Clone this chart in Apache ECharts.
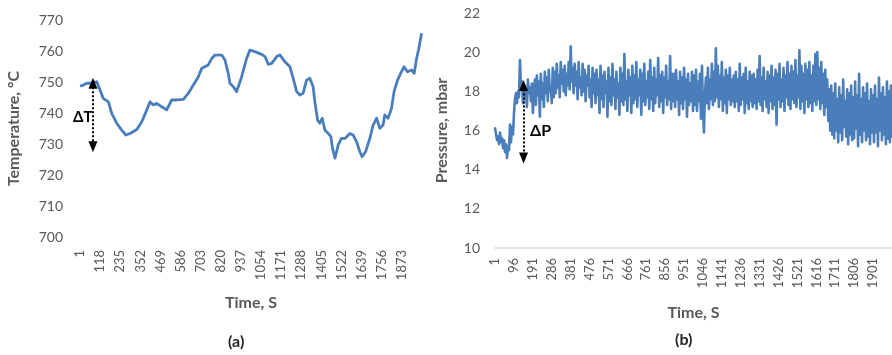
<!DOCTYPE html>
<html>
<head>
<meta charset="utf-8">
<title>Temperature and pressure over time</title>
<script src="https://cdn.jsdelivr.net/npm/echarts@6/dist/echarts.min.js"></script>
<style>
  html, body { margin: 0; padding: 0; background: #ffffff; }
  #chart { width: 892px; height: 355px; }
</style>
</head>
<body>
<div id="chart"></div>
<script>
// (a) furnace temperature, sampled irregularly (s, °C)
const tempTime = [1, 20, 40, 69, 98, 117, 136, 166, 185, 214, 243, 267, 292, 331, 360, 389, 408, 427, 447, 476,
  505, 534, 563, 602, 631, 660, 689, 709, 747, 767, 786, 825, 844, 863, 873, 892, 912, 941, 970, 989,
  1018, 1057, 1077, 1096, 1116, 1145, 1164, 1193, 1222, 1241, 1261, 1280, 1299, 1319, 1338, 1357, 1367, 1383, 1396, 1410,
  1425, 1445, 1460, 1470, 1484, 1503, 1522, 1542, 1571, 1590, 1610, 1629, 1642, 1662, 1687, 1706, 1726, 1745, 1764, 1774,
  1793, 1813, 1828, 1848, 1871, 1886, 1906, 1929, 1945, 1959, 1972, 1988];
const tempValue = [748.7, 749.0, 749.6, 749.6, 750.1, 747.4, 744.7, 743.6, 739.9, 736.7, 734.5, 732.9, 733.4, 734.7, 737.2, 741.0, 743.6, 742.6, 743.1, 742.0,
  741.0, 744.2, 744.2, 744.4, 746.4, 749.0, 751.7, 754.4, 755.5, 757.6, 758.7, 758.7, 757.1, 752.8, 749.6, 748.5, 746.9, 751.7, 757.6, 760.3,
  759.8, 758.9, 758.2, 755.7, 756.0, 758.2, 758.7, 756.5, 754.9, 751.2, 746.9, 745.8, 746.4, 750.6, 751.2, 748.5, 743.6, 737.7, 736.7, 738.3,
  734.5, 733.4, 732.4, 728.6, 725.4, 729.7, 731.8, 731.8, 733.4, 732.9, 730.7, 727.5, 725.9, 727.5, 731.8, 736.1, 738.3, 735.1, 736.1, 739.4,
  738.3, 741.5, 746.9, 750.6, 753.3, 754.9, 753.3, 753.9, 752.8, 757.6, 760.8, 765.7];
const tempTicks = [1, 118, 235, 352, 469, 586, 703, 820, 937, 1054, 1171, 1288, 1405, 1522, 1639, 1756, 1873];

// (b) chamber pressure, one reading every 5 s starting at t = 1 (mbar)
const pressureStart = 1;
const pressureStep = 5;
const pressureValue = [
  16.1, 16.0, 15.5, 15.7, 15.3, 15.9, 15.4, 15.6, 15.1, 15.5, 14.9, 15.3, 14.6, 15.2, 15.0, 16.3, 15.4, 16.2, 15.8, 16.9,
  17.6, 17.9, 17.4, 18.0, 17.7, 19.6, 18.2, 18.5, 17.4, 18.3, 17.6, 18.1, 17.2, 18.6, 17.9, 18.2, 17.5, 18.4, 16.9, 18.0,
  18.6, 17.3, 18.8, 17.8, 18.5, 16.7, 18.9, 17.6, 18.4, 17.2, 19.0, 17.9, 18.7, 17.5, 19.1, 18.0, 18.3, 17.4, 19.2, 17.7,
  19.0, 17.9, 19.4, 18.2, 18.8, 17.7, 19.5, 18.4, 19.1, 18.0, 19.3, 17.8, 18.9, 18.3, 19.5, 18.1, 20.3, 18.5, 19.2, 17.9,
  19.4, 18.3, 19.0, 17.6, 19.5, 18.2, 18.7, 17.8, 19.4, 18.0, 19.1, 17.5, 18.8, 18.3, 19.3, 17.7, 18.6, 17.2, 19.2, 17.9,
  18.9, 17.4, 19.1, 17.8, 18.6, 16.9, 19.3, 17.6, 18.8, 17.2, 19.0, 17.9, 18.5, 16.7, 19.2, 17.5, 18.7, 17.3, 19.4, 17.8,
  18.6, 17.1, 19.0, 17.7, 18.4, 16.8, 19.2, 17.5, 18.9, 17.3, 19.9, 17.6, 18.5, 17.0, 19.1, 17.8, 18.7, 16.9, 19.3, 17.4,
  18.8, 17.6, 19.5, 17.2, 18.6, 17.8, 19.1, 16.8, 18.9, 17.5, 19.4, 17.3, 18.5, 17.7, 19.0, 17.1, 19.6, 17.6, 18.7, 17.0,
  19.2, 17.4, 18.6, 17.8, 19.7, 17.2, 18.8, 17.5, 19.0, 16.9, 18.7, 17.7, 19.3, 17.3, 18.5, 17.6, 19.8, 17.1, 18.9, 17.5,
  18.9, 17.2, 19.1, 17.6, 18.5, 16.8, 19.0, 17.4, 18.7, 17.1, 19.2, 17.6, 18.6, 16.7, 18.9, 17.3, 18.4, 17.5, 19.0, 17.0,
  18.8, 17.3, 19.1, 17.0, 18.5, 17.5, 18.9, 16.6, 19.3, 17.2, 15.9, 17.8, 18.7, 17.4, 19.2, 17.1, 18.6, 17.6, 19.4, 17.3,
  19.0, 17.5, 20.2, 17.7, 19.3, 17.2, 18.8, 17.6, 19.5, 17.0, 18.7, 17.4, 19.1, 16.9, 18.8, 17.6, 19.2, 17.3, 18.6, 17.5,
  18.8, 17.2, 19.0, 17.5, 18.6, 17.0, 19.4, 17.3, 18.7, 17.6, 18.9, 16.9, 19.2, 17.4, 18.5, 17.1, 19.0, 17.5, 18.8, 17.2,
  18.9, 17.4, 18.6, 17.1, 19.1, 17.5, 19.8, 17.3, 18.7, 17.0, 19.2, 17.6, 18.5, 17.2, 19.0, 16.9, 18.8, 17.5, 19.3, 17.1,
  18.7, 17.3, 19.1, 16.3, 18.9, 17.6, 19.4, 17.2, 18.6, 17.5, 19.2, 17.0, 18.8, 17.7, 19.5, 17.3, 18.9, 17.1, 19.3, 17.6,
  19.0, 17.4, 19.6, 17.2, 18.8, 17.7, 20.1, 17.1, 19.3, 17.5, 18.9, 16.9, 19.4, 17.6, 19.1, 17.2, 19.5, 17.4, 18.8, 17.0,
  19.3, 17.5, 19.9, 17.3, 20.0, 17.6, 19.2, 17.1, 19.5, 17.4, 18.9, 16.8, 19.1, 17.2, 18.6, 16.5, 18.1, 16.0, 18.3, 15.8,
  17.9, 15.6, 18.4, 16.0, 17.6, 15.4, 18.2, 15.9, 17.8, 15.5, 18.6, 16.2, 17.5, 15.7, 18.1, 15.3, 17.9, 15.8, 18.3, 15.5,
  17.7, 15.6, 18.5, 16.1, 17.8, 15.2, 18.9, 15.8, 17.6, 15.4, 18.2, 16.0, 17.9, 15.5, 18.4, 15.7, 17.5, 15.3, 18.1, 15.9,
  17.8, 15.4, 18.3, 15.9, 17.6, 15.2, 18.7, 16.0, 17.9, 15.5, 18.2, 15.8, 17.7, 15.3, 18.5, 15.6, 18.0, 15.4, 18.3, 15.7
];
const pressureTicks = [1, 96, 191, 286, 381, 476, 571, 666, 761, 856, 951, 1046, 1141, 1236, 1331, 1426, 1521, 1616, 1711, 1806, 1901];

// Double-headed annotation arrows: [time, top value, bottom value]
const deltaT = [76, 749.6, 729.1];
const deltaP = [144, 18.3, 14.6];

const lineColor = '#4a7ebb';
const textColor = '#595959';
const fontFamily = 'Lato, "Open Sans", "Liberation Sans", sans-serif';

const tempData = tempTime.map((t, i) => [t, tempValue[i]]);
const pressureData = pressureValue.map((v, i) => [pressureStart + i * pressureStep, v]);

const plainNumber = v => String(v);

function arrowLine(x, top, bottom) {
  return {
    silent: true,
    symbol: ['triangle', 'triangle'],
    symbolSize: [9, 11],
    label: { show: false },
    emphasis: { disabled: true },
    lineStyle: { color: '#000000', type: [2, 2], width: 2 },
    data: [[{ coord: [x, top] }, { coord: [x, bottom] }]]
  };
}

const axisNameStyle = { fontSize: 16, fontWeight: 'bold', color: textColor, fontFamily: fontFamily };

const chart = echarts.init(document.getElementById('chart'), null, { renderer: 'canvas' });

chart.setOption({
  animation: false,
  backgroundColor: '#ffffff',
  textStyle: { fontFamily: fontFamily },
  grid: [
    { left: 80, top: 20, width: 342, height: 217 },
    { left: 495, top: 13, width: 404, height: 235 }
  ],
  xAxis: [
    {
      gridIndex: 0, type: 'value', min: 0.5, max: 1990.5,
      axisLine: { show: false }, axisTick: { show: false }, splitLine: { show: false },
      axisLabel: { customValues: tempTicks, formatter: plainNumber, rotate: 90, margin: 13, fontSize: 13, color: textColor, fontFamily: fontFamily },
      name: 'Time, S', nameLocation: 'middle', nameGap: 58, nameMoveOverlap: false,
      nameTextStyle: axisNameStyle
    },
    {
      gridIndex: 1, type: 'value', min: 0.5, max: 1996.5,
      axisLine: { show: true, lineStyle: { color: '#d9d9d9', width: 1.5 } },
      axisTick: { show: false }, splitLine: { show: false },
      axisLabel: { customValues: pressureTicks, formatter: plainNumber, rotate: 90, margin: 10, fontSize: 13, color: textColor, fontFamily: fontFamily },
      name: 'Time, S', nameLocation: 'middle', nameGap: 57, nameMoveOverlap: false,
      nameTextStyle: axisNameStyle
    }
  ],
  yAxis: [
    {
      gridIndex: 0, type: 'value', min: 700, max: 770, interval: 10,
      axisLine: { show: false }, axisTick: { show: false }, splitLine: { show: false },
      axisLabel: { margin: 17, fontSize: 14, color: textColor, fontFamily: fontFamily },
      name: 'Temperature, °C', nameLocation: 'middle', nameGap: 58, nameRotate: 90, nameMoveOverlap: false,
      nameTextStyle: axisNameStyle
    },
    {
      gridIndex: 1, type: 'value', min: 10, max: 22, interval: 2,
      axisLine: { show: false }, axisTick: { show: false }, splitLine: { show: false },
      axisLabel: { margin: 15, fontSize: 14, color: textColor, fontFamily: fontFamily },
      name: 'Pressure, mbar', nameLocation: 'middle', nameGap: 45, nameRotate: 90, nameMoveOverlap: false,
      nameTextStyle: axisNameStyle
    }
  ],
  series: [
    {
      name: 'Temperature', type: 'line', xAxisIndex: 0, yAxisIndex: 0,
      data: tempData, showSymbol: false, silent: true,
      lineStyle: { color: lineColor, width: 2.8, join: 'round' },
      markLine: arrowLine(deltaT[0], deltaT[1], deltaT[2])
    },
    {
      name: 'Pressure', type: 'line', xAxisIndex: 1, yAxisIndex: 1,
      data: pressureData, showSymbol: false, silent: true,
      lineStyle: { color: lineColor, width: 2.6, join: 'round', cap: 'square' },
      markLine: arrowLine(deltaP[0], deltaP[1], deltaP[2])
    }
  ],
  graphic: [
    { type: 'text', left: 73, top: 110, style: { text: 'ΔT', font: 'bold 15px ' + fontFamily, fill: '#000000' } },
    { type: 'text', left: 530, top: 123, style: { text: 'ΔP', font: 'bold 16px ' + fontFamily, fill: '#000000' } },
    { type: 'text', left: 228, top: 334, style: { text: '(a)', font: 'bold 16px ' + fontFamily, fill: '#262626' } },
    { type: 'text', left: 675, top: 332, style: { text: '(b)', font: 'bold 16px ' + fontFamily, fill: '#262626' } }
  ]
});
</script>
</body>
</html>
